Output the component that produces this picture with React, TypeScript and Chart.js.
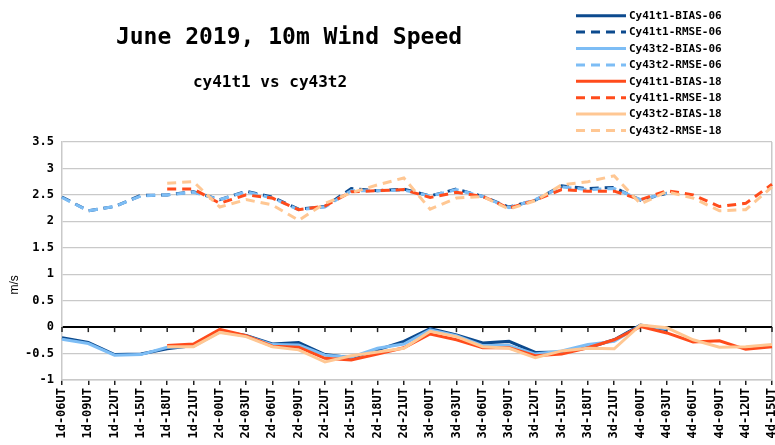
import React, { useEffect, useRef } from 'react';
import { Chart, registerables } from 'chart.js';

Chart.register(...registerables);

const TITLE = 'June 2019, 10m Wind Speed';
const SUBTITLE = 'cy41t1 vs cy43t2';
const Y_TITLE = 'm/s';

const categories = [
  '1d-06UT', '1d-09UT', '1d-12UT', '1d-15UT', '1d-18UT', '1d-21UT',
  '2d-00UT', '2d-03UT', '2d-06UT', '2d-09UT', '2d-12UT', '2d-15UT', '2d-18UT', '2d-21UT',
  '3d-00UT', '3d-03UT', '3d-06UT', '3d-09UT', '3d-12UT', '3d-15UT', '3d-18UT', '3d-21UT',
  '4d-00UT', '4d-03UT', '4d-06UT', '4d-09UT', '4d-12UT', '4d-15UT',
];

const yTicks = [-1, -0.5, 0, 0.5, 1, 1.5, 2, 2.5, 3, 3.5];
const yTickLabels = ['-1', '-0.5', '0', '0.5', '1', '1.5', '2', '2.5', '3', '3.5'];

// 06 UTC runs: 1d-06UT .. 4d-03UT
const cy41t1Bias06 = [-0.20, -0.29, -0.52, -0.51, -0.41, -0.35, -0.08, -0.16, -0.32, -0.29, -0.52, -0.58, -0.43, -0.27, -0.03, -0.15, -0.30, -0.27, -0.48, -0.47, -0.39, -0.24, 0.04, -0.05, null, null, null, null];
const cy41t1Rmse06 = [2.46, 2.20, 2.28, 2.49, 2.50, 2.56, 2.41, 2.57, 2.46, 2.23, 2.28, 2.62, 2.58, 2.61, 2.48, 2.61, 2.47, 2.27, 2.40, 2.67, 2.62, 2.64, 2.40, 2.53, null, null, null, null];
const cy43t2Bias06 = [-0.23, -0.31, -0.53, -0.52, -0.38, -0.36, -0.09, -0.17, -0.33, -0.34, -0.53, -0.57, -0.40, -0.32, -0.05, -0.16, -0.35, -0.35, -0.51, -0.45, -0.33, -0.27, 0.03, -0.03, null, null, null, null];
const cy43t2Rmse06 = [2.45, 2.20, 2.28, 2.48, 2.50, 2.55, 2.41, 2.56, 2.44, 2.22, 2.27, 2.58, 2.58, 2.59, 2.48, 2.60, 2.47, 2.26, 2.41, 2.65, 2.60, 2.62, 2.41, 2.53, null, null, null, null];

// 18 UTC runs: 1d-18UT .. 4d-15UT
const cy41t1Bias18 = [null, null, null, null, -0.35, -0.32, -0.04, -0.16, -0.36, -0.38, -0.59, -0.62, -0.51, -0.39, -0.13, -0.24, -0.39, -0.39, -0.54, -0.51, -0.39, -0.24, 0.01, -0.11, -0.28, -0.26, -0.42, -0.37];
const cy41t1Rmse18 = [null, null, null, null, 2.61, 2.61, 2.34, 2.50, 2.44, 2.22, 2.29, 2.56, 2.58, 2.60, 2.45, 2.55, 2.47, 2.25, 2.40, 2.60, 2.57, 2.57, 2.41, 2.58, 2.50, 2.28, 2.34, 2.70];
const cy43t2Bias18 = [null, null, null, null, -0.37, -0.37, -0.10, -0.18, -0.37, -0.43, -0.66, -0.54, -0.47, -0.40, -0.08, -0.18, -0.37, -0.40, -0.58, -0.45, -0.40, -0.41, 0.04, -0.01, -0.24, -0.38, -0.37, -0.33];
const cy43t2Rmse18 = [null, null, null, null, 2.72, 2.75, 2.27, 2.41, 2.31, 2.02, 2.34, 2.54, 2.69, 2.82, 2.23, 2.44, 2.47, 2.23, 2.39, 2.69, 2.75, 2.86, 2.33, 2.56, 2.44, 2.20, 2.22, 2.65];

const seriesLabels = [
  'Cy41t1-BIAS-06', 'Cy41t1-RMSE-06', 'Cy43t2-BIAS-06', 'Cy43t2-RMSE-06',
  'Cy41t1-BIAS-18', 'Cy41t1-RMSE-18', 'Cy43t2-BIAS-18', 'Cy43t2-RMSE-18',
];
const seriesData = [
  cy41t1Bias06, cy41t1Rmse06, cy43t2Bias06, cy43t2Rmse06,
  cy41t1Bias18, cy41t1Rmse18, cy43t2Bias18, cy43t2Rmse18,
];

const DARK_BLUE = '#0c4a8e';
const LIGHT_BLUE = '#7dbdf5';
const RED = '#ff4b1b';
const LIGHT_ORANGE = '#ffc793';
const seriesColors = [DARK_BLUE, DARK_BLUE, LIGHT_BLUE, LIGHT_BLUE, RED, RED, LIGHT_ORANGE, LIGHT_ORANGE];
const DASH = [9, 6];
const GRID = '#c9c9c9';
const MONO = '"DejaVu Sans Mono", monospace';

const decorPlugin = {
  id: 'decor',
  beforeDatasetsDraw(chart: any) {
    const { ctx, scales } = chart;
    const xs = scales.x;
    const y0 = scales.y.getPixelForValue(0);
    ctx.save();
    ctx.strokeStyle = '#222';
    ctx.lineWidth = 1.5;
    for (let i = 0; i < categories.length; i++) {
      const px = xs.getPixelForTick(i);
      ctx.beginPath();
      ctx.moveTo(px, y0);
      ctx.lineTo(px, y0 + 5);
      ctx.stroke();
    }
    ctx.restore();
  },
  afterDraw(chart: any) {
    const { ctx, chartArea } = chart;
    ctx.save();
    ctx.fillStyle = '#000';
    ctx.textBaseline = 'middle';
    ctx.textAlign = 'center';
    ctx.font = `bold 23px ${MONO}`;
    ctx.fillText(TITLE, 289, 38);
    ctx.font = `bold 16px ${MONO}`;
    ctx.fillText(SUBTITLE, 270, 83);

    // y title
    ctx.save();
    ctx.translate(15, chartArea.top + (chartArea.bottom - chartArea.top) * 0.6);
    ctx.rotate(-Math.PI / 2);
    ctx.font = '12px "Liberation Sans", sans-serif';
    ctx.fillText(Y_TITLE, 0, 0);
    ctx.restore();

    // legend
    ctx.textAlign = 'left';
    ctx.font = `bold 11px ${MONO}`;
    chart.data.datasets.forEach((ds: any, i: number) => {
      const y = 15.7 + i * 16.4;
      ctx.save();
      ctx.strokeStyle = ds.borderColor;
      ctx.lineWidth = 3;
      ctx.lineCap = 'butt';
      ctx.setLineDash(ds.borderDash || []);
      ctx.beginPath();
      ctx.moveTo(576, y);
      ctx.lineTo(626, y);
      ctx.stroke();
      ctx.restore();
      ctx.fillStyle = '#000';
      ctx.fillText(ds.label, 629, y + 0.5);
    });
    ctx.restore();
  },
};

export default function App() {
  const canvasRef = useRef<HTMLCanvasElement | null>(null);

  useEffect(() => {
    if (!canvasRef.current) return;
    const datasets = seriesLabels.map((label, i) => ({
      label,
      data: seriesData[i],
      borderColor: seriesColors[i],
      backgroundColor: seriesColors[i],
      borderWidth: 3,
      borderDash: label.includes('RMSE') ? DASH : [],
      pointRadius: 0,
      pointHoverRadius: 0,
      tension: 0,
      spanGaps: false,
      fill: false,
      order: -i,
    }));

    const chart = new Chart(canvasRef.current, {
      type: 'line',
      data: { labels: categories, datasets },
      options: {
        responsive: false,
        animation: false,
        devicePixelRatio: 1,
        layout: { padding: { top: 142, right: 3, bottom: 0, left: 0 } },
        plugins: {
          legend: { display: false },
          title: { display: false },
          tooltip: { enabled: false },
        },
        scales: {
          x: {
            type: 'category',
            offset: false,
            grid: {
              display: true,
              drawOnChartArea: true,
              color: (c: any) => (c.index === categories.length - 1 ? GRID : 'rgba(0,0,0,0)'),
              lineWidth: 1.5,
              tickColor: '#222',
              tickLength: 5,
              tickWidth: 1.5,
            },
            border: { display: true, color: GRID, width: 1.5 },
            ticks: {
              autoSkip: false,
              maxRotation: 90,
              minRotation: 90,
              padding: 3,
              color: '#000',
              font: { family: MONO, size: 12, weight: 'bold' },
            },
            afterFit: (s: any) => {
              s.paddingLeft = 0;
              s.paddingRight = 0;
              s.height = 65;
            },
          },
          y: {
            type: 'linear',
            min: yTicks[0],
            max: yTicks[yTicks.length - 1],
            afterBuildTicks: (s: any) => {
              s.ticks = yTicks.map((v) => ({ value: v }));
            },
            ticks: {
              padding: 8,
              color: '#000',
              font: { family: MONO, size: 12, weight: 'bold' },
              callback: (_v: any, idx: number) => yTickLabels[idx],
            },
            grid: {
              color: (c: any) => (c.tick && c.tick.value === 0 ? '#000' : GRID),
              lineWidth: (c: any) => (c.tick && c.tick.value === 0 ? 2 : 1.3),
              drawTicks: false,
            },
            border: { display: true, color: GRID, width: 1.5 },
            afterFit: (s: any) => {
              s.width = 62;
            },
          },
        },
      },
      plugins: [decorPlugin],
    } as any);

    return () => chart.destroy();
  }, []);

  return (
    <div style={{ position: 'fixed', left: 0, top: 0, width: 775, height: 445, background: '#fff' }}>
      <canvas ref={canvasRef} width={775} height={445} style={{ display: 'block' }} />
    </div>
  );
}
